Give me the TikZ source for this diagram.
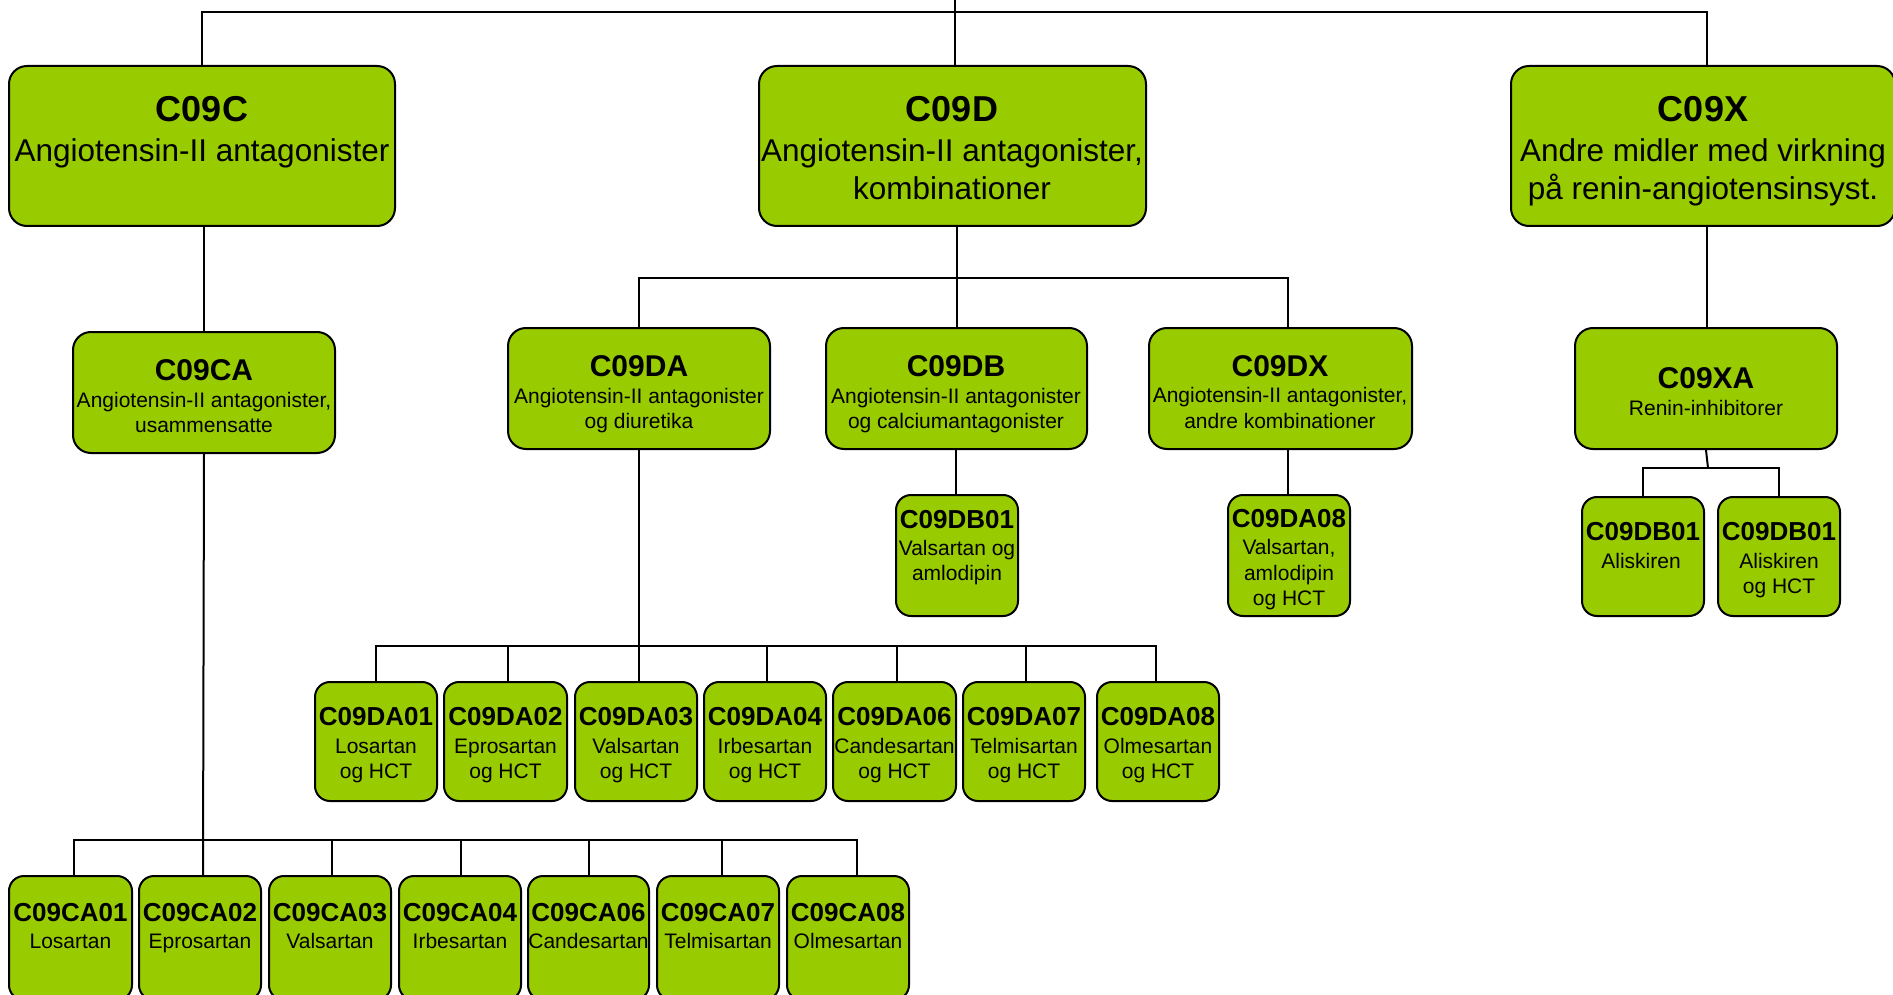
\documentclass[tikz,border=0pt]{standalone}
\usepackage{fontspec}
\setmainfont{Liberation Sans}
\definecolor{atcgreen}{RGB}{153,204,0}
\newcommand\gb[6][gbox]{\node[#1, minimum width={(#5-#3)*1pt}, minimum height={(#6-#4)*1pt}] (#2) at ({(#3+#5)/2},{(#4+#6)/2}) {};}
\begin{document}
\begin{tikzpicture}[x=1pt,y=-1pt,
  boxbase/.style={draw=black, fill=atcgreen, line width=2pt, inner sep=0pt},
  gbox/.style={boxbase, rounded corners=18pt},
  sbox/.style={boxbase, rounded corners=15pt},
  conn/.style={draw=black, line width=2pt},
  tA/.style={anchor=base, inner sep=0pt, font=\fontsize{36}{40}\selectfont\bfseries},
  sA/.style={anchor=base, inner sep=0pt, font=\fontsize{31.5}{36}\selectfont},
  tB/.style={anchor=base, inner sep=0pt, font=\fontsize{30}{34}\selectfont\bfseries},
  sB/.style={anchor=base, inner sep=0pt, font=\fontsize{21}{25}\selectfont},
  tC/.style={anchor=base, inner sep=0pt, font=\fontsize{26}{30}\selectfont\bfseries},
  sC/.style={anchor=base, inner sep=0pt, font=\fontsize{21}{25}\selectfont}]
\useasboundingbox (0,0) rectangle (1893,995);
\fill[white] (0,0) rectangle (1893,995);

\coordinate (root) at (955,0);
\coordinate (busTop) at (955,12);
\coordinate (busD) at (956,278);
\coordinate (busXA) at (1708,468);
\coordinate (busDA) at (639,646);
\coordinate (busCA) at (203,840);

% ---------- boxes ----------
\gb{C09C}{9}{66}{395}{226}
\gb{C09D}{759}{66}{1146}{226}
\gb{C09X}{1511}{66}{1895}{226}
\gb{C09CA}{73}{332}{335}{453}
\gb{C09DA}{508}{328}{770}{449}
\gb{C09DB}{826}{328}{1087}{449}
\gb{C09DX}{1149}{328}{1412}{449}
\gb{C09XA}{1575}{328}{1837}{449}
\gb[sbox]{DB01}{896}{495}{1018}{616}
\gb[sbox]{DX08}{1228}{495}{1350}{616}
\gb[sbox]{XA1}{1582}{497}{1704}{616}
\gb[sbox]{XA2}{1718}{497}{1840}{616}
\gb[sbox]{DA01}{315}{682}{437}{801}
\gb[sbox]{DA02}{444}{682}{567}{801}
\gb[sbox]{DA03}{575}{682}{697}{801}
\gb[sbox]{DA04}{704}{682}{826}{801}
\gb[sbox]{DA06}{833}{682}{956}{801}
\gb[sbox]{DA07}{963}{682}{1085}{801}
\gb[sbox]{DA08}{1097}{682}{1219}{801}
\gb[sbox]{CA01}{9}{876}{132}{1000}
\gb[sbox]{CA02}{139}{876}{261}{1000}
\gb[sbox]{CA03}{269}{876}{391}{1000}
\gb[sbox]{CA04}{399}{876}{521}{1000}
\gb[sbox]{CA06}{528}{876}{649}{1000}
\gb[sbox]{CA07}{657}{876}{779}{1000}
\gb[sbox]{CA08}{787}{876}{909}{1000}

% ---------- connectors ----------
\draw[conn] (root) -- (root |- C09D.north);
\draw[conn] (C09C.north) |- (busTop) -| ([xshift=4pt]C09X.north);
\draw[conn] ([xshift=2pt]C09C.south) -- (C09CA.north);
\draw[conn] ([xshift=4pt]C09X.south) -- ([xshift=4pt]C09X.south |- C09XA.north);
\draw[conn] ([xshift=4pt]C09D.south) -- ([xshift=4pt]C09D.south |- C09DB.north);
\draw[conn] (C09DA.north) |- (busD) -| ([xshift=7pt]C09DX.north);
\draw[conn] ([xshift=-1pt]C09DB.south) -- ([xshift=-1pt]C09DB.south |- DB01.north);
\draw[conn] ([xshift=7pt]C09DX.south) -- ([xshift=7pt]C09DX.south |- DX08.north);
\draw[conn] (C09XA.south) -- (busXA);
\draw[conn] (XA1.north) |- (busXA) -| (XA2.north);
\draw[conn] (C09DA.south) -- (C09DA.south |- DA03.north);
\draw[conn] (DA01.north) |- (busDA) -| ([xshift=-2pt]DA08.north);
\foreach \n in {DA02,DA04,DA06,DA07} \draw[conn] ([xshift=2pt]\n.north) -- ([xshift=2pt]\n.north |- busDA);
\draw[conn] (C09CA.south) -- ([xshift=3pt]CA02.north);
\draw[conn] ([xshift=3pt]CA01.north) |- (busCA) -| ([xshift=9pt]CA08.north);
\foreach \n/\s in {CA03/2,CA04/1,CA06/0,CA07/4} \draw[conn] ([xshift=\s pt]\n.north) -- ([xshift=\s pt]\n.north |- busCA);

% ---------- texts ----------
\node[tA] (tC09C) at (202,122) {C09C};
\node[sA] (sC09C) at (202,162) {Angiotensin-II antagonister};
\node[tA] (tC09D) at (952,122) {C09D};
\node[sA] (sC09Da) at (952,162) {Angiotensin-II antagonister,};
\node[sA] (sC09Db) at (952,200) {kombinationer};
\node[tA] (tC09X) at (1703,122) {C09X};
\node[sA] (sC09Xa) at (1703,162) {Andre midler med virkning};
\node[sA] (sC09Xb) at (1703,200) {på renin-angiotensinsyst.};

\node[tB] (tC09CA) at (204,380) {C09CA};
\node[sB] (sC09CAa) at (204,407) {Angiotensin-II antagonister,};
\node[sB] (sC09CAb) at (204,432) {usammensatte};
\node[tB] (tC09DA) at (639,376) {C09DA};
\node[sB] (sC09DAa) at (639,403) {Angiotensin-II antagonister};
\node[sB] (sC09DAb) at (639,428) {og diuretika};
\node[tB] (tC09DB) at (956,376) {C09DB};
\node[sB] (sC09DBa) at (956,403) {Angiotensin-II antagonister};
\node[sB] (sC09DBb) at (956,428) {og calciumantagonister};
\node[tB] (tC09DX) at (1280,376) {C09DX};
\node[sB] (sC09DXa) at (1280,402) {Angiotensin-II antagonister,};
\node[sB] (sC09DXb) at (1280,428) {andre kombinationer};
\node[tB] (tC09XA) at (1706,388) {C09XA};
\node[sB] (sC09XA) at (1706,415) {Renin-inhibitorer};

\node[tC] (tDB01) at (957,528) {C09DB01};
\node[sC] (sDB01a) at (957,555) {Valsartan og};
\node[sC] (sDB01b) at (957,580) {amlodipin};
\node[tC] (tDX08) at (1289,527) {C09DA08};
\node[sC] (sDX08a) at (1289,554) {Valsartan,};
\node[sC] (sDX08b) at (1289,580) {amlodipin};
\node[sC] (sDX08c) at (1289,605) {og HCT};
\node[tC] (tXA1) at (1643,540) {C09DB01};
\node[sC] (sXA1) at (1641,568) {Aliskiren};
\node[tC] (tXA2) at (1779,540) {C09DB01};
\node[sC] (sXA2a) at (1779,568) {Aliskiren};
\node[sC] (sXA2b) at (1779,593) {og HCT};

\foreach \n/\cx/\code/\drug in {DA01/376/C09DA01/Losartan, DA02/505.5/C09DA02/Eprosartan, DA03/636/C09DA03/Valsartan, DA04/765/C09DA04/Irbesartan, DA06/894.5/C09DA06/Candesartan, DA07/1024/C09DA07/Telmisartan, DA08/1158/C09DA08/Olmesartan}{
  \node[tC] (t\n) at (\cx,725) {\code};
  \node[sC] (s\n a) at (\cx,753) {\drug};
  \node[sC] (s\n b) at (\cx,778) {og HCT};
}
\foreach \n/\cx/\code/\drug in {CA01/70.5/C09CA01/Losartan, CA02/200/C09CA02/Eprosartan, CA03/330/C09CA03/Valsartan, CA04/460/C09CA04/Irbesartan, CA06/588.5/C09CA06/Candesartan, CA07/718/C09CA07/Telmisartan, CA08/848/C09CA08/Olmesartan}{
  \node[tC] (t\n) at (\cx,921) {\code};
  \node[sC] (s\n) at (\cx,948) {\drug};
}
\end{tikzpicture}
\end{document}
